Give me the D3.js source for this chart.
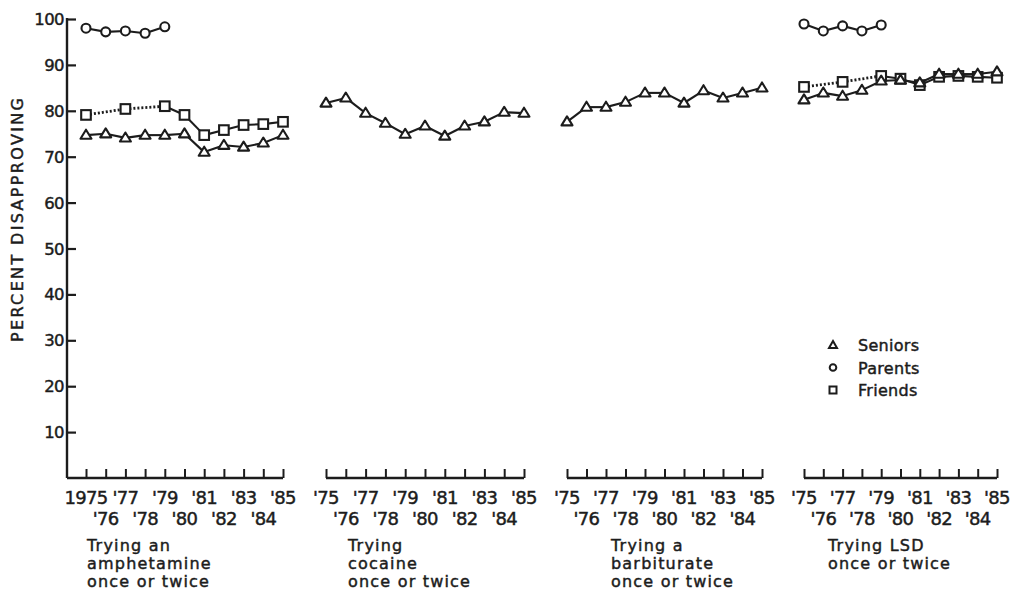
<!DOCTYPE html>
<html><head><meta charset="utf-8">
<script src="https://cdn.jsdelivr.net/npm/d3@7"></script>
<style>
html,body{margin:0;padding:0;background:#fff;}
text{font-family:"DejaVu Sans",sans-serif;fill:#1c1c1c;stroke:#1c1c1c;stroke-width:0.45px;}
</style></head>
<body>
<svg id="chart" width="1015" height="591"></svg>
<script>
// ---- data ----
const years = [1975,1976,1977,1978,1979,1980,1981,1982,1983,1984,1985];
const topLabelsFirst = ["1975","'77","'79","'81","'83","'85"];
const topLabels = ["'75","'77","'79","'81","'83","'85"];
const bottomLabels = ["'76","'78","'80","'82","'84"];
const yTicks = [10,20,30,40,50,60,70,80,90,100];

const amphSeniors = [74.7,75.0,74.1,74.7,74.7,75.0,71.0,72.5,72.1,73.0,74.7];
const amphParents = [98.0,97.2,97.4,96.9,98.3,null,null,null,null,null,null];
const amphFriends = [79.1,null,80.4,null,81.0,79.1,74.7,75.8,76.9,77.1,77.6];

const cocSeniors = [81.7,82.8,79.5,77.3,74.9,76.7,74.5,76.7,77.6,79.7,79.5];

const barbSeniors = [77.6,80.8,80.8,81.9,83.9,83.9,81.7,84.4,82.8,83.9,85.0];

const lsdSeniors = [82.4,83.9,83.2,84.5,86.5,86.7,86.1,88.0,88.0,88.0,88.5];
const lsdParents = [98.9,97.4,98.5,97.4,98.7,null,null,null,null,null,null];
const lsdFriends = [85.2,null,86.3,null,87.6,87.0,85.6,87.4,87.6,87.4,87.2];

const panelTitles = [
  ["Trying an","amphetamine","once or twice"],
  ["Trying","cocaine","once or twice"],
  ["Trying a","barbiturate","once or twice"],
  ["Trying LSD","once or twice"]
];
const legendLabels = ["Seniors","Parents","Friends"];

// ---- layout ----
const svg = d3.select("#chart");
const INK = "#1c1c1c";
const y = d3.scaleLinear().domain([0,100]).range([478,19]);
const axisX = 67;

const panels = [
  {range:[86,283], first:true, series:[{v:amphSeniors,m:"tri"},{v:amphFriends,m:"sq"},{v:amphParents,m:"circ"}], title:panelTitles[0], tx:87},
  {range:[326,524], series:[{v:cocSeniors,m:"tri"}], title:panelTitles[1], tx:348},
  {range:[567,762], series:[{v:barbSeniors,m:"tri"}], title:panelTitles[2], tx:611},
  {range:[804,997], series:[{v:lsdFriends,m:"sq"},{v:lsdSeniors,m:"tri"},{v:lsdParents,m:"circ"}], title:panelTitles[3], tx:828}
];

// y axis
const yAxis = d3.axisRight(y).tickValues(yTicks).tickSize(9).tickFormat("");
const gy = svg.append("g").attr("transform",`translate(${axisX},0)`).call(yAxis);
gy.select(".domain").remove();
gy.selectAll("line").attr("stroke",INK).attr("stroke-width",2.2);
svg.append("line").attr("x1",axisX).attr("x2",axisX).attr("y1",y(100)-1).attr("y2",y(0))
  .attr("stroke",INK).attr("stroke-width",2.4);
svg.append("g").selectAll("text").data(yTicks).join("text")
  .attr("x",axisX-3).attr("y",d=>y(d)+6).attr("text-anchor","end")
  .attr("font-size",16.5).attr("letter-spacing",-0.6).text(d=>d);
svg.append("text").attr("transform",`translate(23,${220}) rotate(-90)`)
  .attr("text-anchor","middle").attr("font-size",16)
  .attr("textLength",244).attr("lengthAdjust","spacing")
  .text("PERCENT DISAPPROVING");

// markers
function drawMarker(g, kind, cx, cy){
  if(kind==="circ"){
    g.append("circle").attr("cx",cx).attr("cy",cy).attr("r",4.5)
      .attr("fill","#fff").attr("stroke",INK).attr("stroke-width",2.1);
  } else if(kind==="sq"){
    g.append("rect").attr("x",cx-4.8).attr("y",cy-4.8).attr("width",9.6).attr("height",9.6)
      .attr("fill","#fff").attr("stroke",INK).attr("stroke-width",2.1);
  } else {
    const h=9, w=11;
    g.append("path").attr("d",`M${cx},${cy-h*0.6}L${cx+w/2},${cy+h*0.4}L${cx-w/2},${cy+h*0.4}Z`)
      .attr("fill","#fff").attr("stroke",INK).attr("stroke-width",2.1).attr("stroke-linejoin","round");
  }
}

panels.forEach((p,pi)=>{
  const x = d3.scaleLinear().domain([1975,1985]).range(p.range);
  const g = svg.append("g");
  // x axis baseline + ticks
  const xAxis = d3.axisTop(x).tickValues(years).tickSize(9).tickFormat("");
  const gx = g.append("g").attr("transform",`translate(0,${y(0)})`).call(xAxis);
  gx.select(".domain").remove();
  gx.selectAll("line").attr("stroke",INK).attr("stroke-width",2);
  g.append("line").attr("x1",p.first?axisX:x(1975)).attr("x2",x(1985))
    .attr("y1",y(0)).attr("y2",y(0)).attr("stroke",INK).attr("stroke-width",2.4);
  // tick labels
  const tops = p.first?topLabelsFirst:topLabels;
  const topYears = years.filter((d,i)=>i%2===0);
  const botYears = years.filter((d,i)=>i%2===1);
  g.selectAll(".tl").data(topYears).join("text")
    .attr("x",d=>x(d)).attr("y",504).attr("text-anchor","middle")
    .attr("font-size",18).attr("letter-spacing",-0.7).text((d,i)=>tops[i]);
  g.selectAll(".bl").data(botYears).join("text")
    .attr("x",d=>x(d)).attr("y",525).attr("text-anchor","middle")
    .attr("font-size",18).attr("letter-spacing",-0.7).text((d,i)=>bottomLabels[i]);
  // title
  p.title.forEach((t,i)=>{
    g.append("text").attr("x",p.tx).attr("y",551+i*18).attr("font-size",16)
      .attr("letter-spacing",1.2).text(t);
  });
  // series
  p.series.forEach(s=>{
    const pts = years.map((yr,i)=>({yr,v:s.v[i]}));
    const def = pts.filter(d=>d.v!=null);
    for(let k=0;k<def.length-1;k++){
      const a=def[k], b=def[k+1];
      const gap = b.yr-a.yr>1;
      g.append("line").attr("x1",x(a.yr)).attr("y1",y(a.v)).attr("x2",x(b.yr)).attr("y2",y(b.v))
        .attr("stroke",INK).attr("stroke-width",gap?2.8:2.1)
        .attr("stroke-dasharray",gap?"2,2":null);
    }
    def.forEach(d=>drawMarker(g,s.m,x(d.yr),y(d.v)));
  });
});

// legend
const legKinds = ["tri","circ","sq"];
const lg = svg.append("g");
legendLabels.forEach((l,i)=>{
  const cy = 345 + i*22.5;
  const mg = lg.append("g");
  if(legKinds[i]==="tri"){
    mg.append("path").attr("d",`M833,${cy-4}L837,${cy+3}L829,${cy+3}Z`).attr("fill","#fff").attr("stroke",INK).attr("stroke-width",2);
  } else if(legKinds[i]==="circ"){
    mg.append("circle").attr("cx",833).attr("cy",cy).attr("r",3.3).attr("fill","#fff").attr("stroke",INK).attr("stroke-width",2);
  } else {
    mg.append("rect").attr("x",829.5).attr("y",cy-3.5).attr("width",7).attr("height",7).attr("fill","#fff").attr("stroke",INK).attr("stroke-width",2);
  }
  lg.append("text").attr("x",858).attr("y",cy+6).attr("font-size",16).attr("letter-spacing",0.3).text(l);
});
</script>
</body></html>
